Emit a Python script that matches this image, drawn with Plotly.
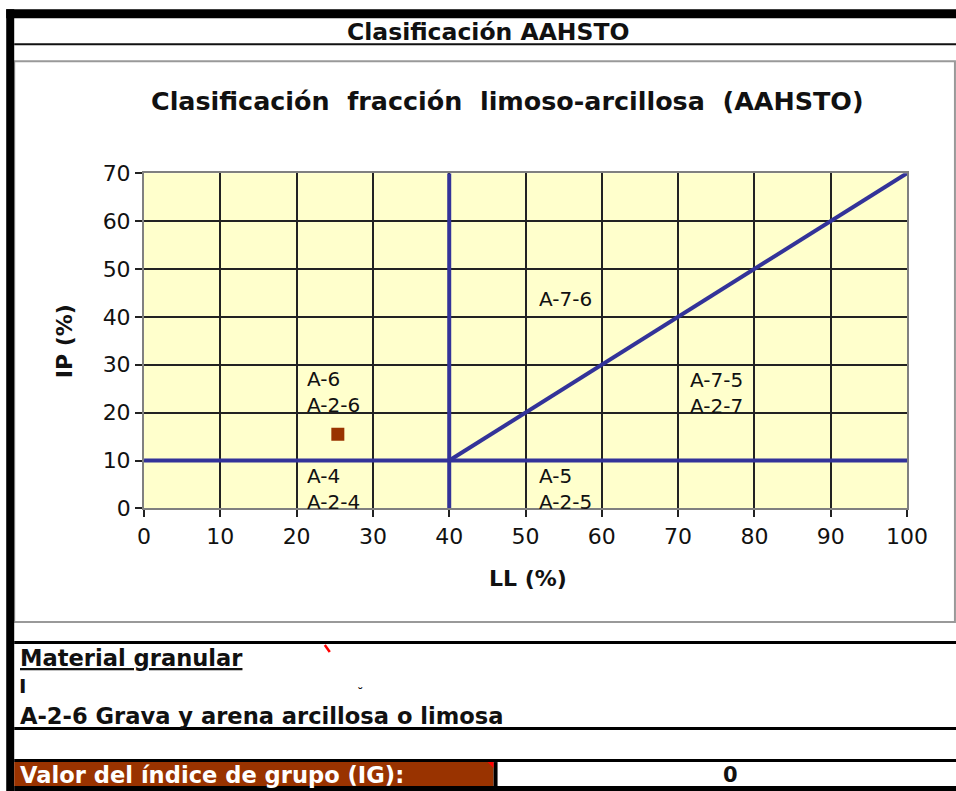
import plotly.graph_objects as go

# Figure size (css px) and the page offset of the figure
W, H = 972, 800
PAD = 8
# layout is specified in target-screen pixels; these convert to page pixels
KX, OX = 0.9725, -2.0
KY, OY = 0.969, 4.0

# --- chart data -----------------------------------------------------------
ll_ticks = [0, 10, 20, 30, 40, 50, 60, 70, 80, 90, 100]
ip_ticks = [0, 10, 20, 30, 40, 50, 60, 70]

# AAHSTO boundaries in the LL / IP plane
ip10_ll = [0, 100]
ip10_ip = [10, 10]
ll40_ll = [40, 40]
ll40_ip = [0, 70]
diag_ll = [40, 100]
diag_ip = [10, 70]

# soil sample
sample_ll = [25.4]
sample_ip = [15.5]

# zone labels
zone_ll = [21.2, 21.2, 51.6, 51.6, 71.4]
zone_ip = [24.3, 4.0, 43.7, 4.0, 24.1]
zone_txt = ["A-6<br>A-2-6", "A-4<br>A-2-4", "A-7-6", "A-5<br>A-2-5", "A-7-5<br>A-2-7"]

# texts of the result table
sheet_title = "Clasificación AAHSTO"
chart_title = "Clasificación\u00a0\u00a0fracción\u00a0\u00a0limoso-arcillosa\u00a0\u00a0(AAHSTO)"
group_header = "Material granular"
group_line = "I"
group_desc = "A-2-6 Grava y arena arcillosa o limosa"
ig_label = "Valor del índice de grupo (IG):"
ig_value = "0"

FONT = "DejaVu Sans"
BLUE = "#333399"
BROWN = "#993300"
INK = "#111"


def px(x):
    """screen x pixel -> paper coordinate"""
    return ((x - OX) / KX - PAD) / W


def py(y):
    """screen y pixel -> paper coordinate"""
    return 1 - ((y - OY) / KY - PAD) / H


fig = go.Figure()

# boundary lines
for xs, ys in [(ip10_ll, ip10_ip), (ll40_ll, ll40_ip), (diag_ll, diag_ip)]:
    fig.add_trace(go.Scatter(x=xs, y=ys, mode="lines",
                             line=dict(color=BLUE, width=4),
                             hoverinfo="skip", showlegend=False))

# sample point
fig.add_trace(go.Scatter(x=sample_ll, y=sample_ip, mode="markers",
                         marker=dict(symbol="square", size=13, color=BROWN,
                                     line=dict(width=0)),
                         showlegend=False))

annotations = []
for lx, ly, t in zip(zone_ll, zone_ip, zone_txt):
    annotations.append(dict(x=lx, y=ly, xref="x", yref="y", text=t,
                            showarrow=False, xanchor="left", yanchor="middle",
                            align="left", borderpad=0,
                            font=dict(family=FONT, size=20, color=INK)))


def label(x, y, text, size, anchor="left", color=INK, angle=0):
    return dict(x=px(x), y=py(y), xref="paper", yref="paper", text=text,
                showarrow=False, xanchor=anchor, yanchor="middle", textangle=angle,
                font=dict(family=FONT, size=size, color=color))


# chart title and axis titles
annotations += [
    label(507, 101, "<b>" + chart_title + "</b>", 25.4, "center"),
    label(527, 578, "<b>LL (%)</b>", 22, "center"),
    label(63, 341, "<b>IP (%)</b>", 22, "center", angle=-90),
]

# sheet / table texts
annotations += [
    label(487, 32, "<b>" + sheet_title + "</b>", 23.5, "center"),
    label(17, 658, "<b><u>" + group_header + "</u></b>", 22.6),
    label(16, 686, "<b>" + group_line + "</b>", 20),
    label(354, 692, "˘", 13),
    label(17, 716, "<b>" + group_desc + "</b>", 22.6),
    label(17, 775, "<b>" + ig_label + "</b>", 22.6, color="white"),
    label(730, 775, "<b>" + ig_value + "</b>", 21, "center"),
]


def rect(x0, y0, x1, y1, fill, layer="above"):
    return dict(type="rect", xref="paper", yref="paper",
                x0=px(x0), x1=px(x1), y0=py(y1), y1=py(y0),
                fillcolor=fill, line=dict(width=0), layer=layer)


shapes = [
    # sheet frame
    rect(5, 9, 960, 18, "#000"),
    rect(5, 9, 13, 800, "#000"),
    rect(13, 43, 960, 45, INK),
    # chart box
    dict(type="rect", xref="paper", yref="paper", x0=px(13), x1=px(955),
         y0=py(622), y1=py(61), line=dict(color="#999", width=2), layer="below"),
    # table rows
    rect(13, 641, 960, 644, "#000"),
    rect(13, 727, 960, 730, "#000"),
    rect(13, 759, 960, 762, "#000"),
    rect(13, 786, 960, 800, "#000"),
    rect(13, 762, 493, 786, BROWN),
    rect(493, 762, 497, 786, "#000"),
    # comment markers
    dict(type="path", xref="paper", yref="paper",
         path=f"M {px(487)} {py(762)} L {px(493)} {py(762)} L {px(493)} {py(768)} Z",
         fillcolor="#ff0000", line=dict(width=0), layer="above"),
    dict(type="line", xref="paper", yref="paper", x0=px(324), y0=py(645), x1=px(329),
         y1=py(652), line=dict(color="#ff0000", width=2.5), layer="above"),
]

axis_common = dict(showgrid=True, gridcolor="#222", gridwidth=1.5, zeroline=False,
                   showline=True, linecolor="#808080", linewidth=2, mirror=True,
                   ticks="outside", ticklen=7, tickwidth=1.5, tickcolor="#222",
                   tickfont=dict(family=FONT, size=22, color=INK), fixedrange=True)

fig.update_layout(
    width=W, height=H,
    margin=dict(l=0, r=0, t=0, b=0),
    paper_bgcolor="white",
    plot_bgcolor="#FFFFCC",
    showlegend=False,
    annotations=annotations,
    shapes=shapes,
    xaxis=dict(domain=[px(143), px(907)], range=[0, 100], tickvals=ll_ticks, **axis_common),
    yaxis=dict(domain=[py(508.3), py(173)], range=[0, 70], tickvals=ip_ticks, **axis_common),
)

fig.write_html("out.html", config={"displayModeBar": False})
